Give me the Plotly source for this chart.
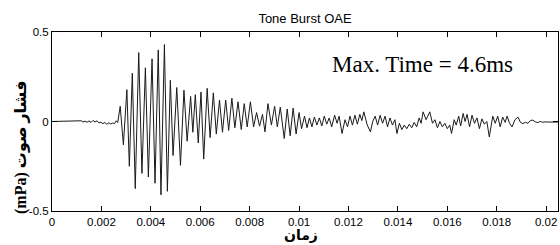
import plotly.graph_objects as go

# Waveform: time (ms) and pressure (mPa), peaks/troughs
time_ms = [
    0.0, 1.10, 1.18, 1.26, 1.34, 1.42, 1.50, 1.58, 1.66, 1.74, 1.82, 1.90, 1.98,
    2.06, 2.14, 2.22, 2.30, 2.38, 2.46, 2.53, 2.60, 2.66,
    2.76, 2.89, 3.03, 3.13, 3.25, 3.37, 3.51, 3.64, 3.78, 3.90, 4.05, 4.17,
    4.30, 4.41, 4.55, 4.67, 4.79, 4.90, 5.05, 5.20, 5.34, 5.47, 5.61, 5.70,
    5.80, 5.92, 6.03, 6.14, 6.28, 6.40, 6.53, 6.65, 6.78, 6.90, 7.03, 7.15,
    7.28, 7.40, 7.53, 7.66, 7.78, 7.90, 8.03, 8.16, 8.28, 8.40, 8.52, 8.62,
    8.74, 8.88, 9.01, 9.12, 9.24, 9.40, 9.52, 9.64, 9.76, 9.88, 10.00,
    10.10, 10.22, 10.32, 10.42, 10.52, 10.62, 10.72, 10.82, 10.92, 11.02,
    11.12, 11.22, 11.32, 11.44, 11.54, 11.62, 11.74, 11.86, 11.96, 12.06,
    12.16, 12.26, 12.36, 12.46, 12.54, 12.62, 12.76, 12.89, 12.98, 13.08,
    13.18, 13.28, 13.38, 13.48, 13.58, 13.68, 13.78, 13.88, 13.96, 14.06,
    14.16, 14.26, 14.36, 14.46, 14.56, 14.66, 14.76, 14.86, 14.94, 15.02,
    15.14, 15.22, 15.29, 15.40, 15.50, 15.60, 15.70, 15.80, 15.90, 16.00,
    16.10, 16.17, 16.28, 16.36, 16.46, 16.54, 16.64, 16.72, 16.80, 16.90,
    17.00, 17.10, 17.20, 17.30, 17.40, 17.50, 17.60, 17.70, 17.84, 17.94,
    18.04, 18.14, 18.24, 18.34, 18.42, 18.52, 18.62, 18.74, 18.86, 18.96,
    19.06, 19.16, 19.26, 19.36, 19.46, 19.56, 19.66, 19.76, 19.86, 19.96,
    20.05, 20.48,
]
pressure = [
    0.0, 0.0, 0.004, -0.003, 0.002, -0.004, 0.003, -0.005, 0.006, -0.003, 0.004, -0.008, -0.004,
    -0.012, -0.006, -0.015, -0.007, -0.014, -0.008, -0.012, 0.004, -0.006,
    0.085, -0.13, 0.178, -0.25, 0.27, -0.375, 0.385, -0.29, 0.30, -0.31, 0.35, -0.345,
    0.40, -0.41, 0.43, -0.39, 0.23, -0.19, 0.19, -0.245, 0.175, -0.11, 0.14, -0.06,
    0.15, -0.12, 0.165, -0.21, 0.185, -0.09, 0.16, -0.07, 0.12, -0.06, 0.12, -0.05,
    0.13, -0.035, 0.11, -0.045, 0.10, -0.03, 0.11, -0.03, 0.05, -0.026, 0.04, -0.058,
    0.10, -0.02, 0.085, -0.03, 0.08, -0.095, 0.07, -0.08, 0.075, -0.07, 0.05,
    -0.04, 0.03, -0.035, 0.02, -0.03, 0.025, -0.02, 0.02, -0.025, 0.03,
    -0.015, 0.02, -0.03, 0.035, -0.01, 0.03, -0.067, 0.01, -0.03, 0.03,
    -0.02, 0.035, -0.015, 0.04, 0.005, 0.054, -0.02, -0.058, 0.0, 0.03,
    -0.02, 0.035, -0.01, 0.03, -0.03, 0.02, -0.02, 0.01, -0.067, -0.01,
    -0.045, -0.02, -0.04, -0.015, -0.035, -0.005, -0.03, 0.02, -0.01, 0.054,
    0.01, 0.03, 0.054, -0.01, 0.01, -0.035, 0.0, -0.03, -0.01, -0.04,
    -0.02, -0.067, 0.01, -0.02, 0.03, -0.025, 0.045, 0.0, 0.04, -0.03,
    0.035, -0.01, 0.02, -0.04, 0.015, -0.015, 0.0, -0.086, 0.03, -0.01,
    0.03, -0.03, 0.025, -0.005, 0.03, -0.01, -0.03, 0.01, 0.025, -0.005,
    -0.012, -0.004, -0.01, 0.005, 0.008, -0.002, -0.006, 0.0, -0.004, -0.002,
    -0.003, -0.003,
]

x_tick_vals = [0, 0.002, 0.004, 0.006, 0.008, 0.01, 0.012, 0.014, 0.016, 0.018, 0.02]
x_tick_text = ["0", "0.002", "0.004", "0.006", "0.008", "0.01", "0.012", "0.014", "0.016", "0.018", "0.02"]
y_tick_vals = [-0.5, 0, 0.5]
y_tick_text = ["-0.5", "0", "0.5"]

title_text = "Tone Burst OAE"
note_text = "Max. Time = 4.6ms"
y_label = "(mPa) فشار صوت"
x_label = "زمان"

time_s = [t / 1000 for t in time_ms]

fig = go.Figure()
fig.add_trace(go.Scatter(
    x=time_s, y=pressure, mode="lines",
    line=dict(color="#1a1a1a", width=1),
    hoverinfo="skip", showlegend=False,
))

axis_common = dict(
    showline=True, linecolor="black", linewidth=1, mirror="ticks",
    ticks="inside", ticklen=5, tickcolor="black", tickwidth=1,
    showgrid=False, zeroline=False,
    tickfont=dict(family="Liberation Sans, Arial", size=11.5, color="black"),
)

fig.update_layout(
    width=560, height=245,
    margin=dict(l=52, r=2, t=32, b=34),
    paper_bgcolor="white", plot_bgcolor="white",
    xaxis=dict(range=[0, 0.02048], tickmode="array", tickvals=x_tick_vals,
               ticktext=x_tick_text, **axis_common),
    yaxis=dict(range=[-0.5, 0.5], tickmode="array", tickvals=y_tick_vals,
               ticktext=y_tick_text, **axis_common),
    title=dict(text=title_text, x=0.5, xanchor="center", y=0.925, yanchor="middle",
               xref="paper", yref="container",
               font=dict(family="Liberation Sans, Arial", size=13, color="black")),
    showlegend=False,
)

fig.add_annotation(
    text=note_text, xref="paper", yref="paper", x=0.549, y=0.82,
    xanchor="left", yanchor="middle", showarrow=False,
    font=dict(family="Liberation Serif, Times New Roman", size=23, color="black"),
)
fig.add_annotation(
    text="<b>" + y_label + "</b>", xref="paper", yref="paper", x=-0.0626, y=0.354,
    xanchor="center", yanchor="middle", textangle=-90, showarrow=False,
    font=dict(family="Liberation Serif, DejaVu Sans", size=16, color="black"),
)
fig.add_annotation(
    text="<b>" + x_label + "</b>", xref="paper", yref="paper", x=0.492, y=-0.132,
    xanchor="center", yanchor="middle", showarrow=False,
    font=dict(family="DejaVu Sans", size=14, color="black"),
)

fig.write_html(
    "out.html",
    config={"displayModeBar": False},
    post_script="document.body.style.margin='0';document.body.style.padding='0';",
)
